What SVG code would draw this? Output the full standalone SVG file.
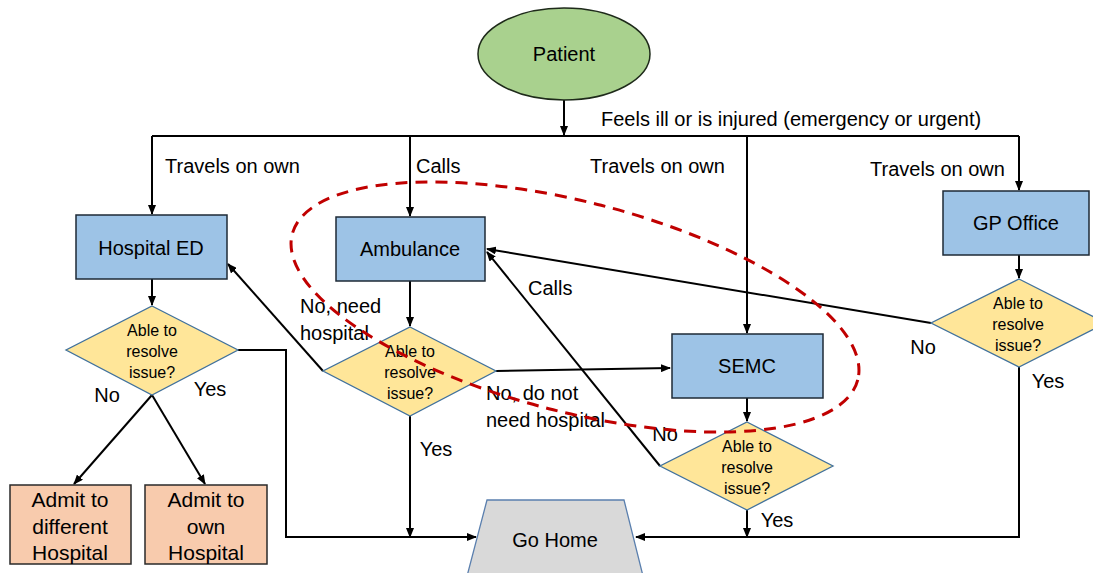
<svg xmlns="http://www.w3.org/2000/svg" width="1093" height="573" viewBox="0 0 1093 573">
<defs>
<style>
text{font-family:"Liberation Sans",Arial,sans-serif;fill:#000}
.n{font-size:20px;text-anchor:middle;dominant-baseline:central}
.d{font-size:16px;text-anchor:middle;dominant-baseline:central}
.p{font-size:21px;text-anchor:middle;dominant-baseline:central}
.l{font-size:20px}
.c{text-anchor:middle}
.box{fill:#9dc3e6;stroke:#1e2a36;stroke-width:1.5}
.dia{fill:#ffe699;stroke:#41719c;stroke-width:1.3}
.adm{fill:#f8cbad;stroke:#2a2a2a;stroke-width:1.5}
.con path{fill:none;stroke:#000;stroke-width:2}
</style>
<marker id="a" markerUnits="userSpaceOnUse" markerWidth="10" markerHeight="8" refX="9" refY="4" orient="auto">
<path d="M0,0 L10,4 L0,8 z" fill="#000"/>
</marker>
</defs>
<rect width="1093" height="573" fill="#fff"/>

<g class="con">
<path d="M564,100 L564,135" marker-end="url(#a)"/>
<path d="M152,136 L1019,136"/>
<path d="M152,136 L152,214" marker-end="url(#a)"/>
<path d="M410,136 L410,216" marker-end="url(#a)"/>
<path d="M747,136 L747,333" marker-end="url(#a)"/>
<path d="M1019,136 L1019,190" marker-end="url(#a)"/>
<path d="M152,279 L152,305" marker-end="url(#a)"/>
<path d="M152,395 L74,484" marker-end="url(#a)"/>
<path d="M152,395 L205,484" marker-end="url(#a)"/>
<path d="M238,350 L286,350 L286,537 L476,537" marker-end="url(#a)"/>
<path d="M410,281 L410,326" marker-end="url(#a)"/>
<path d="M323,371 L228,264" marker-end="url(#a)"/>
<path d="M496,371 L670,368" marker-end="url(#a)"/>
<path d="M410,416 L410,537" marker-end="url(#a)"/>
<path d="M747,398 L747,421" marker-end="url(#a)"/>
<path d="M660,466 L487,252" marker-end="url(#a)"/>
<path d="M747,510 L747,537" marker-end="url(#a)"/>
<path d="M1019,255 L1019,278" marker-end="url(#a)"/>
<path d="M931,323 L487,249" marker-end="url(#a)"/>
<path d="M1019,367 L1019,537 L636,537" marker-end="url(#a)"/>
</g>

<g id="labels">
<text class="l" x="601" y="126">Feels ill or is injured (emergency or urgent)</text>
<text class="l" x="165" y="173">Travels on own</text>
<text class="l" x="416" y="173">Calls</text>
<text class="l" x="590" y="173">Travels on own</text>
<text class="l" x="870" y="176">Travels on own</text>
<text class="l" x="528" y="295">Calls</text>
<text class="l" x="300" y="313">No, need</text>
<text class="l" x="300" y="340">hospital</text>
<text class="l" x="486" y="400">No, do not</text>
<text class="l" x="486" y="427">need hospital</text>
<text class="l c" x="107" y="402">No</text>
<text class="l c" x="210" y="396">Yes</text>
<text class="l c" x="436" y="456">Yes</text>
<text class="l c" x="923" y="354">No</text>
<text class="l c" x="1048" y="388">Yes</text>
<text class="l c" x="665" y="441">No</text>
<text class="l c" x="777" y="527">Yes</text>
</g>

<g id="patient">
<ellipse cx="564" cy="54" rx="86" ry="46" fill="#a9d18e" stroke="#1e2a1a" stroke-width="1.5"/>
<text class="n" x="564" y="54">Patient</text>
</g>

<g id="hospital-ed">
<rect class="box" x="76" y="215" width="151" height="64"/>
<text class="n" x="151" y="248">Hospital ED</text>
</g>

<g id="ambulance">
<rect class="box" x="336" y="217" width="149" height="64"/>
<text class="n" x="410" y="249">Ambulance</text>
</g>

<g id="gp-office">
<rect class="box" x="943" y="191" width="146" height="64"/>
<text class="n" x="1016" y="223">GP Office</text>
</g>

<g id="semc">
<rect class="box" x="672" y="334" width="151" height="64"/>
<text class="n" x="747" y="366">SEMC</text>
</g>

<g id="hed-decision">
<polygon class="dia" points="152,306 238,350 152,395 66,350"/>
<text class="d" x="152" y="330">Able to</text>
<text class="d" x="152" y="351">resolve</text>
<text class="d" x="152" y="372">issue?</text>
</g>

<g id="amb-decision">
<polygon class="dia" points="410,327 496,371 410,416 323,371"/>
<text class="d" x="410" y="351">Able to</text>
<text class="d" x="410" y="372">resolve</text>
<text class="d" x="410" y="393">issue?</text>
</g>

<g id="semc-decision">
<polygon class="dia" points="747,422 833,466 747,510 660,466"/>
<text class="d" x="747" y="446">Able to</text>
<text class="d" x="747" y="467">resolve</text>
<text class="d" x="747" y="488">issue?</text>
</g>

<g id="gp-decision">
<polygon class="dia" points="1019,279 1106,323 1019,367 931,323"/>
<text class="d" x="1018" y="303">Able to</text>
<text class="d" x="1018" y="324">resolve</text>
<text class="d" x="1018" y="345">issue?</text>
</g>

<g id="admit-different">
<rect class="adm" x="10" y="485" width="121" height="79"/>
<text class="p" x="70" y="499">Admit to</text>
<text class="p" x="70" y="526">different</text>
<text class="p" x="70" y="552">Hospital</text>
</g>

<g id="admit-own">
<rect class="adm" x="145" y="485" width="122" height="79"/>
<text class="p" x="206" y="499">Admit to</text>
<text class="p" x="206" y="526">own</text>
<text class="p" x="206" y="552">Hospital</text>
</g>

<g id="go-home">
<polygon points="487,500 624,500 644,580 466,580" fill="#d9d9d9" stroke="#5a7fae" stroke-width="1.3"/>
<text class="n" x="555" y="540">Go Home</text>
</g>

<g id="highlight">
<ellipse cx="575" cy="307" rx="292" ry="105" transform="rotate(14.45 575 307)" fill="none" stroke="#c00000" stroke-width="3" stroke-dasharray="12 8"/>
</g>
</svg>
